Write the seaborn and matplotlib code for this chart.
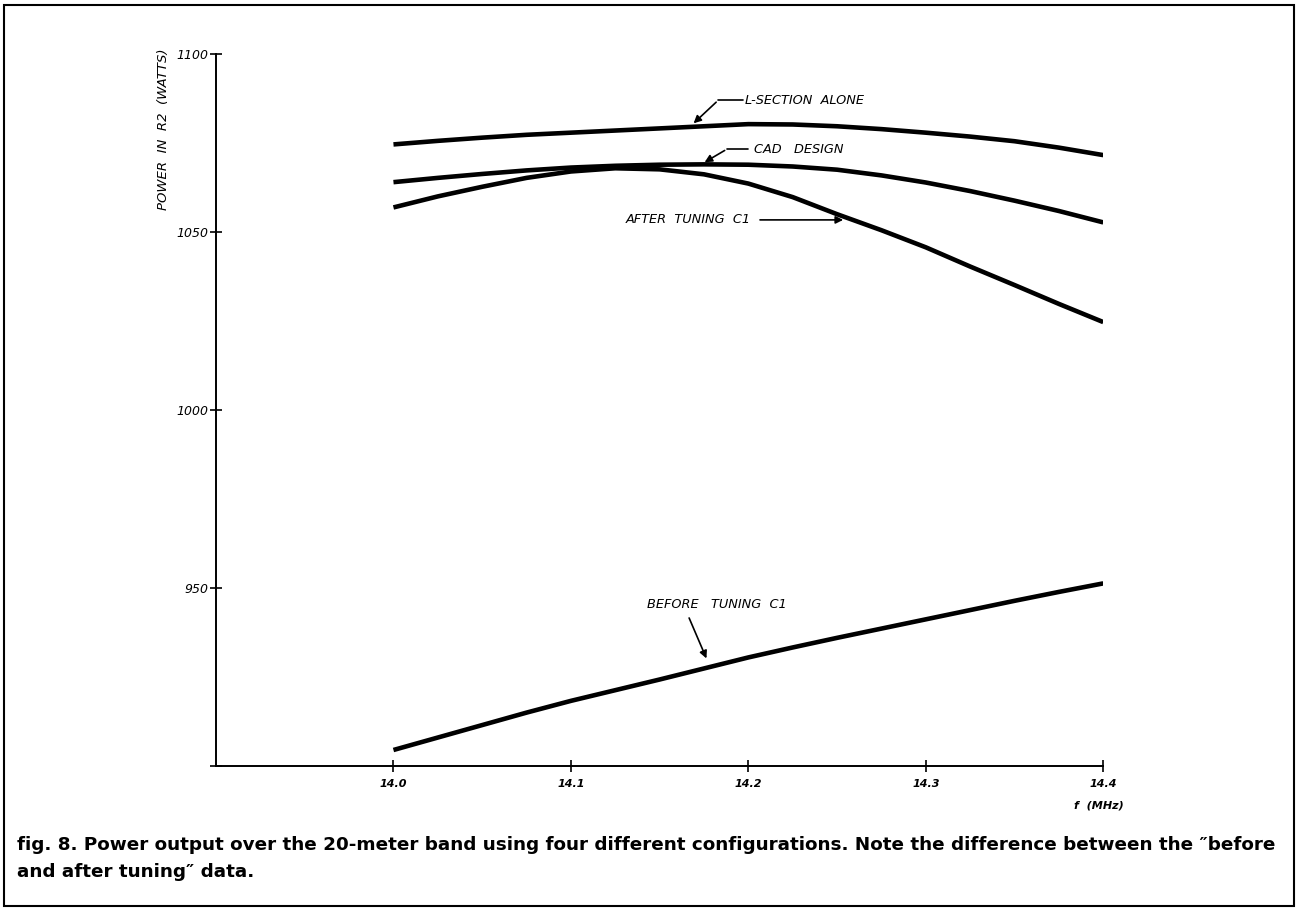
import numpy as np
import pandas as pd
import matplotlib
matplotlib.use("Agg")
import matplotlib.pyplot as plt
from matplotlib.patches import Rectangle
import seaborn as sns

# ---- data ----
freq = [14.000, 14.025, 14.050, 14.075, 14.100, 14.125, 14.150, 14.175, 14.200,
        14.225, 14.250, 14.275, 14.300, 14.325, 14.350, 14.375, 14.400]
l_section = [1074.6, 1075.6, 1076.5, 1077.3, 1077.9, 1078.5, 1079.1, 1079.7, 1080.3,
             1080.2, 1079.7, 1078.9, 1077.9, 1076.8, 1075.5, 1073.7, 1071.6]
cad_design = [1064.0, 1065.2, 1066.3, 1067.3, 1068.1, 1068.6, 1068.9, 1069.0, 1068.9,
              1068.4, 1067.5, 1065.9, 1063.9, 1061.5, 1058.8, 1055.9, 1052.7]
after_tuning = [1056.9, 1060.0, 1062.7, 1065.2, 1067.0, 1067.9, 1067.6, 1066.2, 1063.6,
                1059.8, 1055.0, 1050.5, 1045.7, 1040.3, 1035.1, 1029.8, 1024.7]
before_tuning = [904.5, 908.0, 911.5, 915.0, 918.3, 921.3, 924.3, 927.4, 930.5,
                 933.3, 936.0, 938.6, 941.2, 943.8, 946.4, 948.9, 951.3]

x_ticks = [14.0, 14.1, 14.2, 14.3, 14.4]
x_tick_labels = ["14.0", "14.1", "14.2", "14.3", "14.4"]
y_ticks = [900, 950, 1000, 1050, 1100]
y_tick_labels = ["", "950", "1000", "1050", "1100"]

series_names = ["L-SECTION ALONE", "CAD DESIGN", "AFTER TUNING C1", "BEFORE TUNING C1"]
series_values = [l_section, cad_design, after_tuning, before_tuning]

df = pd.concat(
    [pd.DataFrame({"f": freq, "P": v, "config": n}) for n, v in zip(series_names, series_values)],
    ignore_index=True,
)

sns.set_theme(style="white")
plt.rcParams["font.family"] = ["DejaVu Sans"]
plt.rcParams["text.color"] = "black"
plt.rcParams["xtick.color"] = "black"
plt.rcParams["ytick.color"] = "black"

fig = plt.figure(figsize=(12.99, 9.09), dpi=100)
ax = fig.add_axes([0.1663, 0.1573, 0.683, 0.7833])

sns.lineplot(
    data=df, x="f", y="P", hue="config", palette=["black"] * 4,
    linewidth=3.3, legend=False, ax=ax, estimator=None, sort=True,
)
for ln in ax.get_lines():
    ln.set_solid_joinstyle("round")
    ln.set_solid_capstyle("butt")

ax.set_xlim(13.9, 14.4)
ax.set_ylim(900, 1100)
ax.set_xticks(x_ticks)
ax.set_xticklabels(x_tick_labels, fontsize=8, fontstyle="italic", fontweight="bold")
ax.set_yticks(y_ticks)
ax.set_yticklabels(y_tick_labels, fontsize=9, fontstyle="italic")
ax.set_xlabel("")
ax.set_ylabel("")
for s in ["top", "right"]:
    ax.spines[s].set_visible(False)
for s in ["left", "bottom"]:
    ax.spines[s].set_color("black")
    ax.spines[s].set_linewidth(1.4)
ax.tick_params(axis="both", which="major", direction="inout", length=9, width=1.2,
               colors="black", bottom=True, left=True, top=False, right=False)
ax.tick_params(axis="x", pad=5)
ax.tick_params(axis="y", pad=1)
ax.grid(False)

# y label near top of the axis
ax.text(-0.059, 0.895, "POWER  IN  R2  (WATTS)", transform=ax.transAxes, rotation=90,
        ha="center", va="center", fontsize=9.5, fontstyle="italic")
# x label
ax.text(0.995, -0.048, "f  (MHz)", transform=ax.transAxes, ha="center", va="top",
        fontsize=8, fontstyle="italic", fontweight="bold")

# annotations
ann_kw = dict(fontsize=9.3, fontstyle="italic", color="black")
arr = dict(arrowstyle="-|>", color="black", lw=1.2, mutation_scale=11)
# L-SECTION ALONE
ax.annotate("", xy=(14.168, 1080.0), xytext=(14.183, 1087.0), arrowprops=arr)
ax.plot([14.183, 14.197], [1087.0, 1087.0], color="black", lw=1.2)
ax.text(14.198, 1087.0, "L-SECTION  ALONE", ha="left", va="center", **ann_kw)
# CAD DESIGN
ax.annotate("", xy=(14.174, 1069.2), xytext=(14.188, 1073.3), arrowprops=arr)
ax.plot([14.188, 14.2], [1073.3, 1073.3], color="black", lw=1.2)
ax.text(14.203, 1073.3, "CAD   DESIGN", ha="left", va="center", **ann_kw)
# AFTER TUNING C1
ax.text(14.131, 1053.4, "AFTER  TUNING  C1", ha="left", va="center", **ann_kw)
ax.annotate("", xy=(14.255, 1053.4), xytext=(14.205, 1053.4), arrowprops=arr)
# BEFORE TUNING C1
ax.text(14.143, 945.5, "BEFORE   TUNING  C1", ha="left", va="center", **ann_kw)
ax.annotate("", xy=(14.177, 929.5), xytext=(14.166, 942.3), arrowprops=arr)

# caption
cap_kw = dict(fontsize=13.2, fontweight="bold", family=["DejaVu Sans"], ha="left",
              va="center", color="black")
fig.text(17 / 1299, 1 - 845 / 909,
         "fig. 8. Power output over the 20-meter band using four different configurations. "
         "Note the difference between the \u2033before", **cap_kw)
fig.text(17 / 1299, 1 - 872 / 909, "and after tuning\u2033 data.", **cap_kw)

# border
fig.patches.append(Rectangle((4 / 1299, 3 / 909), 1 - 9 / 1299, 1 - 8 / 909,
                             transform=fig.transFigure, fill=False, edgecolor="black", lw=1.5))

fig.savefig("out.png", dpi=100)
